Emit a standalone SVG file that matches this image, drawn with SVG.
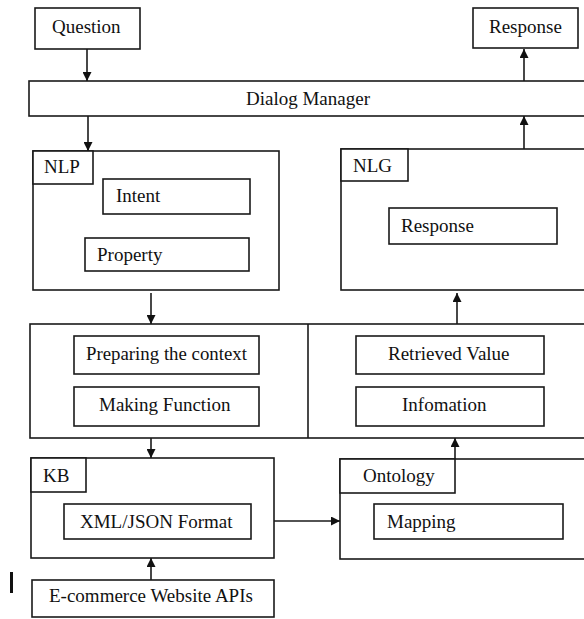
<svg xmlns="http://www.w3.org/2000/svg" width="584" height="619" viewBox="0 0 584 619">
<style>
.b{fill:#fff;stroke:#1a1a1a;stroke-width:1.6}
text{font-family:'Liberation Serif','DejaVu Serif',serif;font-size:19px;fill:#111}
.c{stroke:#1a1a1a;stroke-width:1.6;fill:none}
</style>
<defs>
<marker id="ah" viewBox="0 0 10 10" refX="10" refY="5" markerWidth="9" markerHeight="9" markerUnits="userSpaceOnUse" orient="auto">
<path d="M0,0 L10,5 L0,10 z" fill="#111"/>
</marker>
</defs>
<rect width="584" height="619" fill="#fff"/>
<g id="question"><rect class="b" x="35" y="8" width="105" height="41"/><text x="52" y="33">Question</text></g>
<g id="response-out"><rect class="b" x="473" y="8" width="105" height="40"/><text x="489" y="33">Response</text></g>
<g id="dialog"><rect class="b" x="29" y="81" width="570" height="35"/><text x="246" y="105">Dialog Manager</text></g>
<g id="nlp"><rect class="b" x="33" y="151" width="246" height="139"/><rect class="b" x="33" y="151" width="60" height="33"/><text x="44" y="173">NLP</text>
<rect class="b" x="103" y="179" width="147" height="35"/><text x="116" y="202">Intent</text>
<rect class="b" x="85" y="238" width="164" height="33"/><text x="97" y="261">Property</text></g>
<g id="nlg"><rect class="b" x="341" y="149" width="260" height="141"/><rect class="b" x="341" y="149" width="67" height="32"/><text x="353" y="172">NLG</text>
<rect class="b" x="389" y="208" width="168" height="36"/><text x="401" y="232">Response</text></g>
<g id="processing"><rect class="b" x="30" y="324" width="570" height="114"/><line class="c" x1="308" y1="324" x2="308" y2="438"/>
<rect class="b" x="74" y="336" width="185" height="38"/><text x="86" y="360" textLength="161" lengthAdjust="spacingAndGlyphs">Preparing the context</text>
<rect class="b" x="74" y="387" width="185" height="39"/><text x="99" y="411">Making Function</text>
<rect class="b" x="356" y="336" width="188" height="38"/><text x="388" y="360">Retrieved Value</text>
<rect class="b" x="356" y="387" width="188" height="39"/><text x="402" y="411">Infomation</text></g>
<g id="kb"><rect class="b" x="31" y="458" width="243" height="100"/><rect class="b" x="31" y="458" width="55" height="34"/><text x="43" y="482">KB</text>
<rect class="b" x="64" y="504" width="187" height="35"/><text x="80" y="528">XML/JSON Format</text></g>
<g id="ontology"><rect class="b" x="340" y="459" width="260" height="100"/><rect class="b" x="340" y="459" width="115" height="34"/><text x="363" y="482">Ontology</text>
<rect class="b" x="374" y="504" width="189" height="35"/><text x="387" y="528">Mapping</text></g>
<g id="ecommerce"><rect class="b" x="32" y="580" width="242" height="37"/><text x="49" y="602">E-commerce Website APIs</text></g>
<rect x="10" y="572" width="3" height="21" fill="#111"/>
<g id="connectors">
<line class="c" x1="87" y1="49" x2="87" y2="81" marker-end="url(#ah)"/>
<line class="c" x1="88" y1="116" x2="88" y2="151" marker-end="url(#ah)"/>
<line class="c" x1="524" y1="81" x2="524" y2="49" marker-end="url(#ah)"/>
<line class="c" x1="524" y1="149" x2="524" y2="116" marker-end="url(#ah)"/>
<line class="c" x1="151" y1="293" x2="151" y2="324" marker-end="url(#ah)"/>
<line class="c" x1="457" y1="324" x2="457" y2="293" marker-end="url(#ah)"/>
<line class="c" x1="151" y1="438" x2="151" y2="458" marker-end="url(#ah)"/>
<line class="c" x1="455" y1="459" x2="455" y2="438" marker-end="url(#ah)"/>
<line class="c" x1="274" y1="521" x2="340" y2="521" marker-end="url(#ah)"/>
<line class="c" x1="151" y1="580" x2="151" y2="558" marker-end="url(#ah)"/>
</g>
</svg>
